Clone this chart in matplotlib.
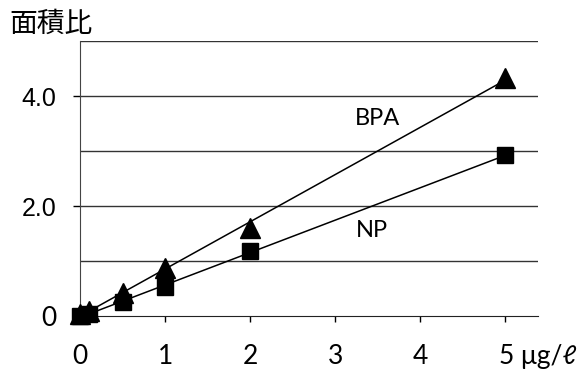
import numpy as np
import matplotlib
matplotlib.use("Agg")
import matplotlib.pyplot as plt
import matplotlib.transforms as mtransforms

# concentration (ug/L) and peak area ratio
conc = [0, 0.1, 0.5, 1, 2, 5]
bpa = [0.03, 0.10, 0.42, 0.88, 1.60, 4.33]
np_ = [0.00, 0.04, 0.25, 0.53, 1.18, 2.92]

xticks = [0, 1, 2, 3, 4, 5]
xlabels = ["0", "1", "2", "3", "4", "5 \u03bcg/\u2113"]
yticks = [0, 2, 4]
ylabels = ["0", "2.0", "4.0"]
ygrid = [1, 2, 3, 4, 5]

fig = plt.figure(figsize=(5.81, 3.69), dpi=100)
ax = fig.add_axes([0.1377, 0.1436, 0.789, 0.745])

#linear trend lines like the excel ones
xx = np.array([0, 5])
for ys in (bpa, np_):
    k, b = np.polyfit(conc, ys, 1)
    ax.plot(xx, k * xx + b, color="black", lw=1.1, zorder=3)

ax.plot(conc, bpa, "^", color="black", ms=15, clip_on=False, zorder=4)
ax.plot(conc, np_, "s", color="black", ms=12, clip_on=False, zorder=5)

for g in ygrid:
    ax.axhline(g, color="#333333", lw=1.0, zorder=1)

ax.set_xlim(0, 5.39)
ax.set_ylim(0, 5)
for s in ("top", "right"):
    ax.spines[s].set_visible(False)
ax.spines["left"].set_color("#444444")
ax.spines["bottom"].set_color("#222222")

ax.set_xticks(xticks)
ax.set_xticklabels(xlabels, family=["Lato", "DejaVu Sans"], fontsize=19)
ax.tick_params(axis="x", length=4, width=1, pad=16)
ax.set_yticks(yticks)
ax.set_yticklabels(ylabels, fontsize=18)
ax.tick_params(axis="y", length=5, width=1, pad=12)
for lab in ax.get_yticklabels():
    if lab.get_text() == "0":
        lab.set_family("Lato")
        lab.set_fontsize(19)
    else:
        lab.set_family("Liberation Sans")

# the last label hangs its unit to the right of the "5"
last = ax.get_xticklabels()[-1]
last.set_horizontalalignment("left")
last.set_transform(last.get_transform() + mtransforms.ScaledTranslation(-6 / 100, 0, fig.dpi_scale_trans))

ax.text(3.5, 3.6, "BPA", family="Lato", fontsize=17, ha="center", va="center")
ax.text(3.43, 1.56, "NP", family="Lato", fontsize=17, ha="center", va="center")

fig.text(0.017, 0.935, "面積比", family=["Noto Sans CJK JP", "DejaVu Sans"], fontsize=20, va="center", ha="left")

fig.savefig("out.png", dpi=100)
